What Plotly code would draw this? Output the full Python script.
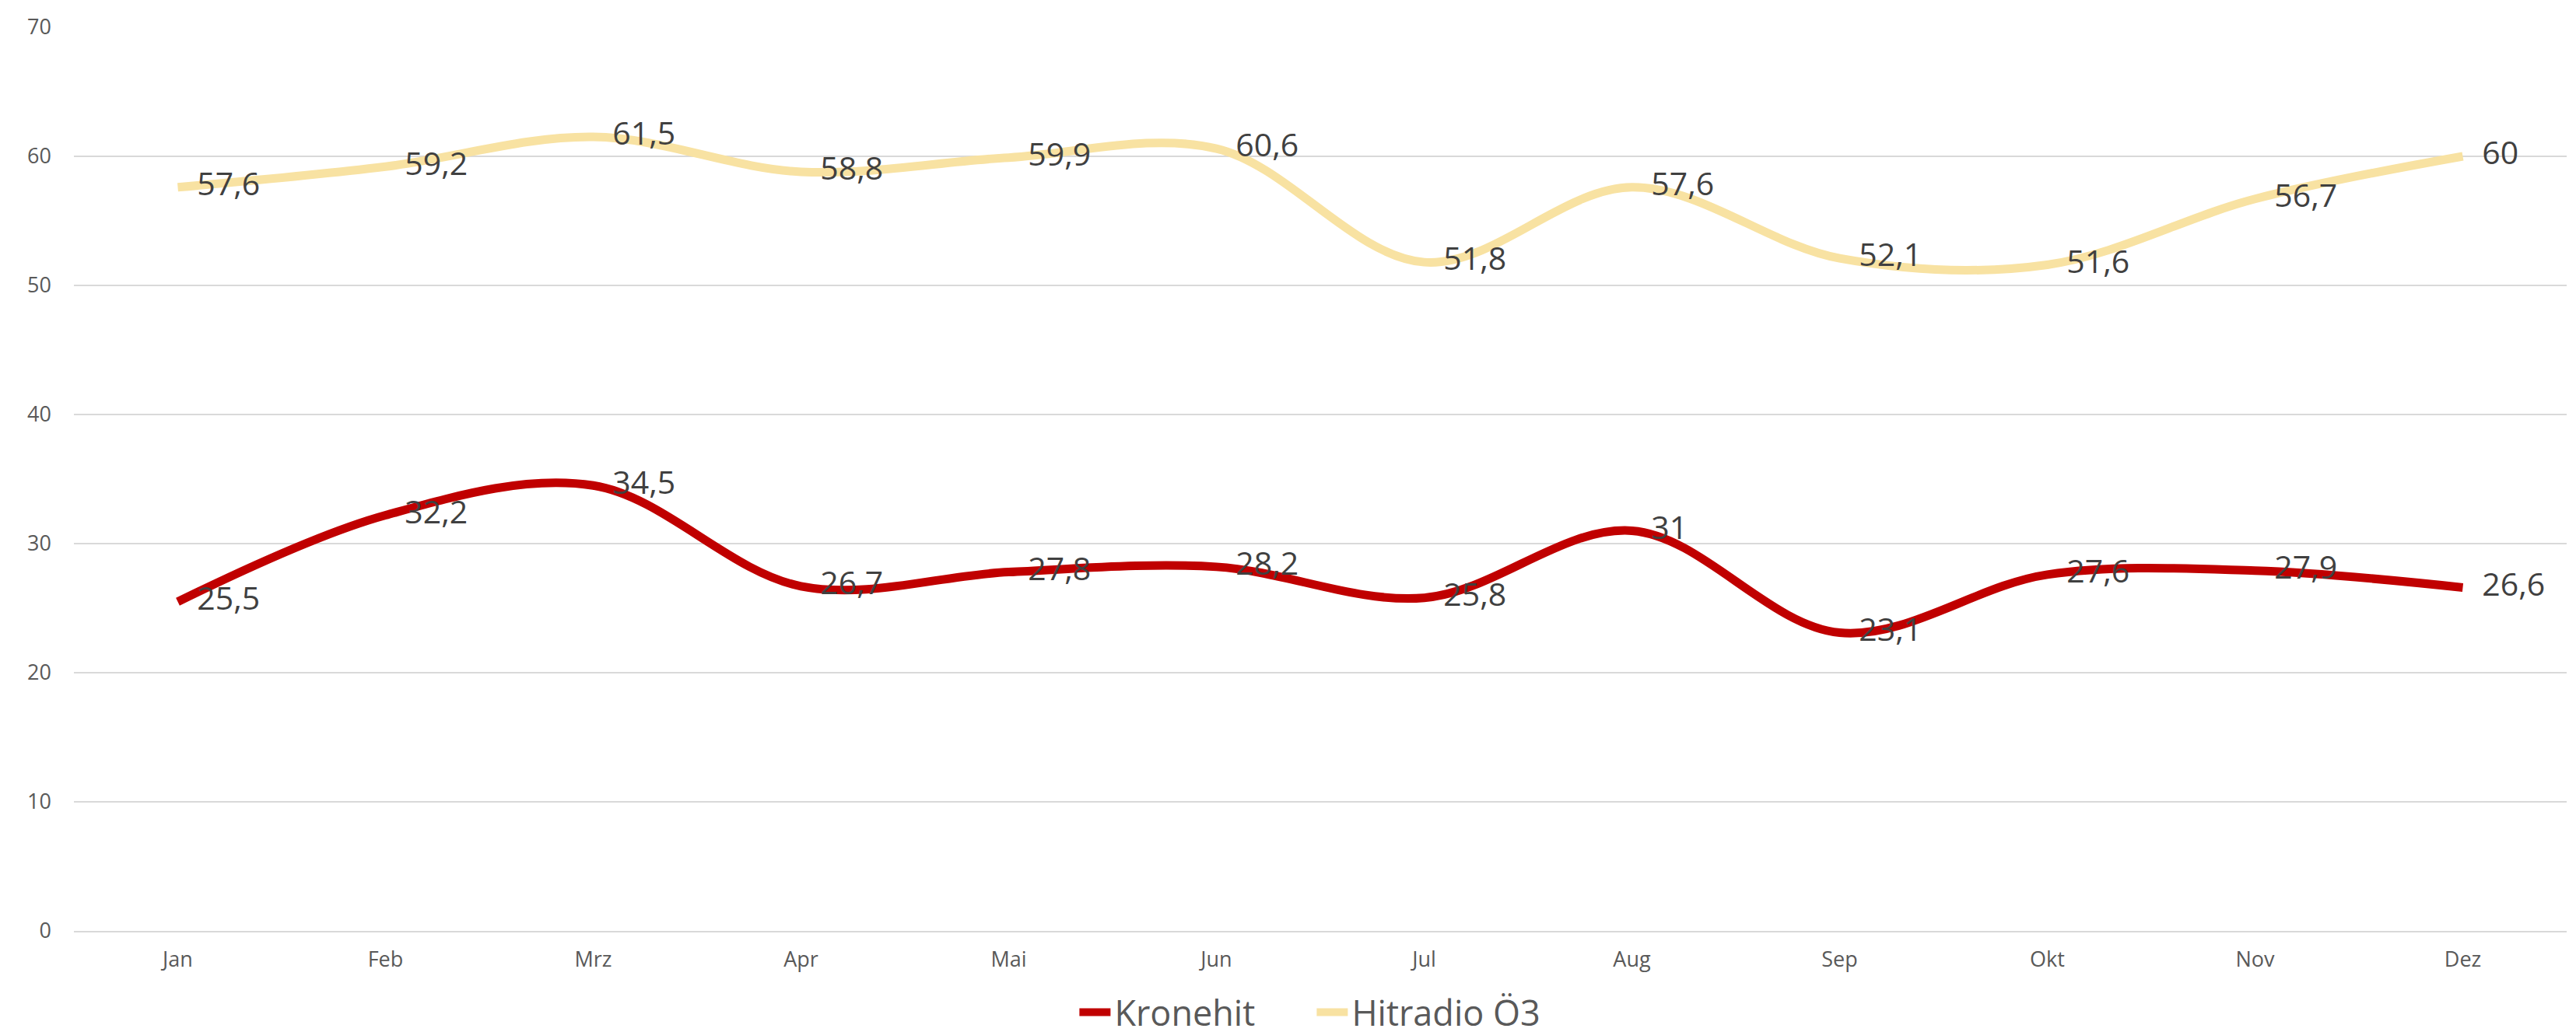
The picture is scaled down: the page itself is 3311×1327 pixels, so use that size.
import plotly.graph_objects as go

months = ["Jan", "Feb", "Mrz", "Apr", "Mai", "Jun", "Jul", "Aug", "Sep", "Okt", "Nov", "Dez"]
kronehit = [25.5, 32.2, 34.5, 26.7, 27.8, 28.2, 25.8, 31, 23.1, 27.6, 27.9, 26.6]
hitradio = [57.6, 59.2, 61.5, 58.8, 59.9, 60.6, 51.8, 57.6, 52.1, 51.6, 56.7, 60]
y_ticks = [0, 10, 20, 30, 40, 50, 60, 70]

series = [
    ("Kronehit", kronehit, "#C00000"),
    ("Hitradio Ö3", hitradio, "#F8E2A2"),
]

FONT = "Open Sans, Noto Sans, sans-serif"

def fmt(v):
    s = ("%g" % v)
    return s.replace(".", ",")

fig = go.Figure()
for name, vals, col in series:
    fig.add_trace(go.Scatter(
        x=months, y=vals, name=name, mode="lines",
        line=dict(color=col, width=11, shape="spline", smoothing=1.0),
        hoverinfo="skip",
    ))
for name, vals, col in series:
    fig.add_trace(go.Scatter(
        x=months, y=vals, mode="markers+text", showlegend=False,
        marker=dict(size=38, color="rgba(0,0,0,0)"),
        text=[fmt(v) for v in vals], textposition="middle right",
        textfont=dict(family=FONT, size=41, color="#404040"),
        hoverinfo="skip",
    ))

fig.update_layout(
    width=3311, height=1327,
    margin=dict(l=87, r=20, t=27, b=138, autoexpand=False),
    paper_bgcolor="white", plot_bgcolor="white",
    font=dict(family=FONT, color="#595959"),
    showlegend=True,
    legend=dict(
        orientation="h", x=0.497, xanchor="center",
        yref="container", y=0.025, yanchor="middle",
        font=dict(family=FONT, size=45, color="#595959"),
        itemwidth=40, entrywidth=250, entrywidthmode="pixels",
        traceorder="normal", bgcolor="rgba(0,0,0,0)",
    ),
    xaxis=dict(
        type="category", categoryorder="array", categoryarray=months,
        range=[-0.5, 11.5], showgrid=False, zeroline=False,
        showline=True, linecolor="#D9D9D9", linewidth=2, automargin=False,
        ticks="", tickfont=dict(family=FONT, size=27, color="#595959"),
        ticklabelstandoff=12,
    ),
    yaxis=dict(
        range=[0, 70], tickvals=y_ticks, showgrid=True, gridcolor="#D9D9D9",
        gridwidth=2, zeroline=False, showline=False, ticks="", automargin=False,
        tickfont=dict(family=FONT, size=27, color="#595959"),
        ticklabelstandoff=28,
    ),
)

fig.write_html("out.html")
